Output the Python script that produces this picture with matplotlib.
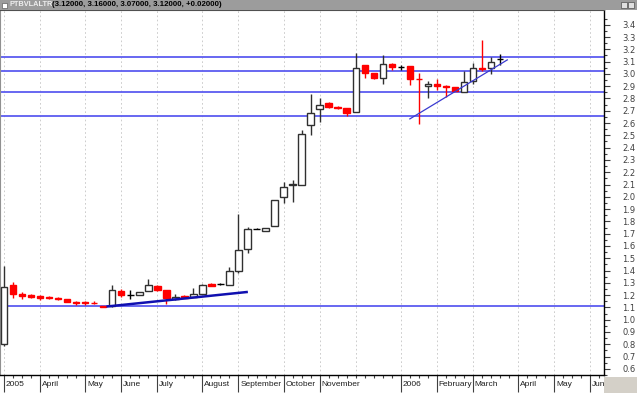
import numpy as np
import matplotlib
matplotlib.use("Agg")
import matplotlib.pyplot as plt
from matplotlib.patches import Rectangle

# weekly candles
opens = [0.80, 1.28, 1.21, 1.20, 1.195, 1.185, 1.18, 1.17, 1.145, 1.14, 1.137, 1.115,
         1.115, 1.236, 1.203, 1.203, 1.23, 1.277, 1.244, 1.168, 1.195, 1.184, 1.211, 1.293,
         1.29, 1.285, 1.40, 1.577, 1.74, 1.724, 1.76, 2.00, 2.10, 2.10, 2.585, 2.713,
         2.76, 2.73, 2.72, 2.69, 3.07, 3.006, 2.97, 3.08, 3.055, 3.065, 2.96, 2.90,
         2.92, 2.905, 2.89, 2.85, 2.94, 3.05, 3.046, 3.12]
highs = [1.44, 1.31, 1.225, 1.21, 1.20, 1.19, 1.185, 1.17, 1.15, 1.15, 1.155, 1.115,
         1.285, 1.25, 1.245, 1.225, 1.333, 1.28, 1.244, 1.21, 1.20, 1.26, 1.29, 1.30,
         1.295, 1.43, 1.86, 1.756, 1.745, 1.75, 1.97, 2.12, 2.14, 2.545, 2.84, 2.80,
         2.77, 2.74, 2.72, 3.17, 3.07, 3.01, 3.155, 3.085, 3.07, 3.065, 3.005, 2.94,
         2.96, 2.91, 2.89, 3.02, 3.09, 3.276, 3.14, 3.16]
lows = [0.79, 1.18, 1.17, 1.18, 1.16, 1.165, 1.16, 1.14, 1.12, 1.12, 1.13, 1.10,
        1.105, 1.185, 1.17, 1.203, 1.23, 1.235, 1.127, 1.16, 1.176, 1.184, 1.211, 1.275,
        1.285, 1.285, 1.38, 1.545, 1.735, 1.72, 1.76, 1.95, 1.96, 2.10, 2.50, 2.61,
        2.72, 2.715, 2.66, 2.69, 2.965, 2.96, 2.92, 3.03, 3.03, 2.91, 2.59, 2.80,
        2.87, 2.81, 2.86, 2.85, 2.92, 3.02, 3.00, 3.07]
closes = [1.27, 1.21, 1.19, 1.185, 1.175, 1.175, 1.165, 1.14, 1.135, 1.137, 1.135, 1.103,
          1.245, 1.203, 1.203, 1.225, 1.285, 1.238, 1.176, 1.184, 1.176, 1.211, 1.285, 1.277,
          1.29, 1.40, 1.57, 1.74, 1.74, 1.748, 1.97, 2.08, 2.105, 2.51, 2.68, 2.748,
          2.73, 2.726, 2.685, 3.05, 3.006, 2.97, 3.08, 3.06, 3.055, 2.957, 2.955, 2.92,
          2.90, 2.89, 2.864, 2.937, 3.05, 3.04, 3.10, 3.12]

level_lines = [3.14, 3.02, 2.85, 2.66, 1.11]
trend_a_x = [11.5, 26.9]
trend_a_y = [1.108, 1.225]
trend_b_x = [45.0, 55.8]
trend_b_y = [2.634, 3.114]

grid_pos = [0, 4, 9, 13, 17, 22, 26, 31, 35, 39, 44, 48, 52, 57, 61, 65]
month_pos = [0, 4, 9, 13, 17, 22, 26, 31, 35, 44, 48, 52, 57, 61, 65]
month_labels = ["2005", "April", "May", "June", "July", "August", "September",
                "October", "November", "2006", "February", "March", "April", "May", "Jun"]

W, H = 637, 393
fig = plt.figure(figsize=(W / 100, H / 100), dpi=100)
ax = fig.add_axes([0, (H - 375) / H, 604 / W, (375 - 10) / H])
ax.set_xlim(-0.44, 66.52)
ax.set_ylim(0.553, 3.52)

# dashed month grid
ax.vlines(grid_pos, 0.553, 3.52, colors="#c4c4c4", linestyles=(0, (2, 3)), lw=0.6, zorder=0)

# support / resistance levels and trend lines
for lv in level_lines:
    ax.axhline(lv, color="#5c5cf0", lw=1.3, zorder=1)
ax.plot(trend_a_x, trend_a_y, color="#1010b0", lw=1.8, zorder=4)
ax.plot(trend_b_x, trend_b_y, color="#3a3ad0", lw=0.9, zorder=4)

# candles
x = np.arange(len(opens))
o = np.array(opens)
c = np.array(closes)
face, edge = [], []
for oo, cc in zip(o, c):
    if cc < oo:
        face.append("#ff0000"); edge.append("#ff0000")
    elif cc > oo:
        face.append("white"); edge.append("#303030")
    else:
        face.append("black"); edge.append("black")
ax.vlines(x, lows, highs, colors=edge, lw=1, zorder=2)
ax.bar(x, np.abs(c - o), bottom=np.minimum(o, c), width=0.72,
       color=face, edgecolor=edge, linewidth=1, zorder=3)

# right price scale
ax.yaxis.tick_right()
ax.set_yticks(np.round(np.arange(0.6, 3.45, 0.1), 1))
ax.set_yticklabels(["%.1f" % v for v in np.arange(0.6, 3.45, 0.1)])
ax.set_yticks(np.arange(0.55, 3.5, 0.05), minor=True)
ax.tick_params(axis="y", which="major", length=4, width=0.8, pad=9,
               labelsize=6, labelcolor="#404040", colors="#404040")
ax.tick_params(axis="y", which="minor", length=2, width=0.8, colors="#404040")

# time axis
ax.set_xticks(month_pos)
ax.set_xticklabels([])
ax.set_xticks(np.arange(0, 67), minor=True)
ax.tick_params(axis="x", which="major", length=12, width=0.8, colors="#404040")
ax.tick_params(axis="x", which="minor", length=2, width=0.8, colors="#404040")
for p, lab in zip(month_pos, month_labels):
    ax.text(p + 0.2, -10 / 365, lab, transform=ax.get_xaxis_transform(),
            ha="left", va="center", fontsize=6, family="Liberation Sans", color="#202020")

for s in ["right", "bottom"]:
    ax.spines[s].set_color("black")
    ax.spines[s].set_linewidth(1)
ax.spines["left"].set_color("#909090")
ax.spines["top"].set_color("#505050")

# title bar and window chrome
fig.patches.append(Rectangle((0, (H - 9.5) / H), 1, 9.5 / H, transform=fig.transFigure,
                             facecolor="#9c9c9c", edgecolor="none", zorder=0))
fig.patches.append(Rectangle((2 / W, (H - 8) / H), 5 / W, 5 / H, transform=fig.transFigure,
                             facecolor="white", edgecolor="#606060", lw=0.5))
for bx in [621, 628]:
    fig.patches.append(Rectangle((bx / W, (H - 8) / H), 6 / W, 6 / H, transform=fig.transFigure,
                                 facecolor="#e0e0e0", edgecolor="#505050", lw=0.5))
fig.patches.append(Rectangle((604 / W, 0), 33 / W, 16 / H, transform=fig.transFigure,
                             facecolor="#d4d0c8", edgecolor="none"))
fig.text(9 / W, (H - 5) / H, "PTBVLALTR", fontsize=5.3, weight="bold",
         family="Liberation Sans", color="#eeeeee", va="center", ha="left")
fig.text(52 / W, (H - 5) / H, "(3.12000, 3.16000, 3.07000, 3.12000, +0.02000)",
         fontsize=5.7, weight="bold", family="Liberation Sans", color="black",
         va="center", ha="left")

fig.savefig("out.png", dpi=100)
